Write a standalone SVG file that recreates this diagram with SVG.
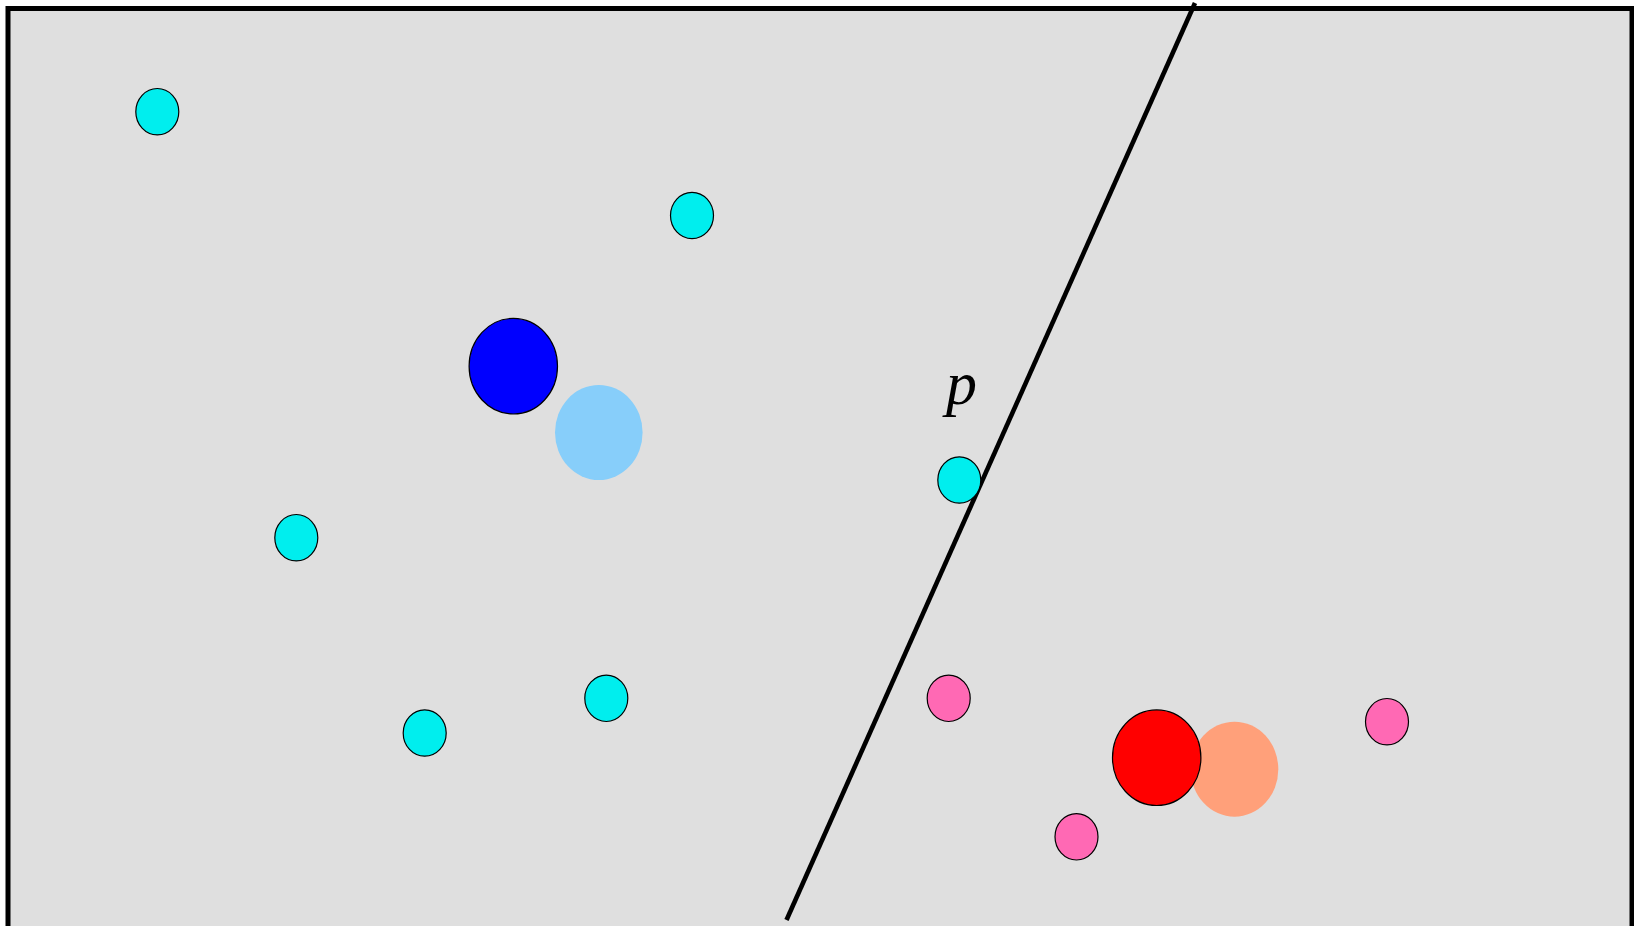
<svg xmlns="http://www.w3.org/2000/svg" width="1634" height="926" viewBox="0 0 1634 926">
  <style>
    .small { stroke: #000; stroke-width: 1.2; }
    .big { stroke: #000; stroke-width: 1.2; }
    .cyan { fill: #00EEEE; }
    .pink { fill: #FF69B4; }
    .label { font-family: "Liberation Serif", "DejaVu Serif", serif; font-style: italic; font-size: 62px; fill: #000; }
  </style>
  <rect x="8" y="8.5" width="1624" height="940" fill="#DFDFDF" stroke="#000" stroke-width="5"/>
  <g id="connectors">
    <line x1="1195" y1="3" x2="786.5" y2="920" stroke="#000" stroke-width="4.6"/>
  </g>
  <g id="label-p">
    <text class="label" x="946" y="404">p</text>
  </g>
  <g id="c1"><ellipse class="small cyan" cx="157.3" cy="111.7" rx="21.5" ry="23.2"/></g>
  <g id="c2"><ellipse class="small cyan" cx="692" cy="215.5" rx="21.5" ry="23.2"/></g>
  <g id="c3"><ellipse class="small cyan" cx="296.3" cy="537.7" rx="21.5" ry="23.2"/></g>
  <g id="c4"><ellipse class="small cyan" cx="424.7" cy="733" rx="21.5" ry="23.2"/></g>
  <g id="c5"><ellipse class="small cyan" cx="606.3" cy="698.3" rx="21.5" ry="23.2"/></g>
  <g id="c6"><ellipse class="small cyan" cx="959.3" cy="480" rx="21.5" ry="23.2"/></g>
  <g id="m-lightblue"><ellipse cx="598.8" cy="432.5" rx="43.8" ry="47.5" fill="#87CEFA"/></g>
  <g id="m-blue"><ellipse class="big" cx="513.3" cy="366.2" rx="44.2" ry="47.8" fill="#0000FF"/></g>
  <g id="p1"><ellipse class="small pink" cx="948.7" cy="698.3" rx="21.5" ry="23.2"/></g>
  <g id="p2"><ellipse class="small pink" cx="1076.5" cy="836.8" rx="21.5" ry="23.2"/></g>
  <g id="p3"><ellipse class="small pink" cx="1387" cy="721.7" rx="21.5" ry="23.2"/></g>
  <g id="m-salmon"><ellipse cx="1234.5" cy="769.2" rx="43.8" ry="47.5" fill="#FFA07A"/></g>
  <g id="m-red"><ellipse class="big" cx="1156.7" cy="757.7" rx="44.2" ry="47.8" fill="#FF0000"/></g>
</svg>
